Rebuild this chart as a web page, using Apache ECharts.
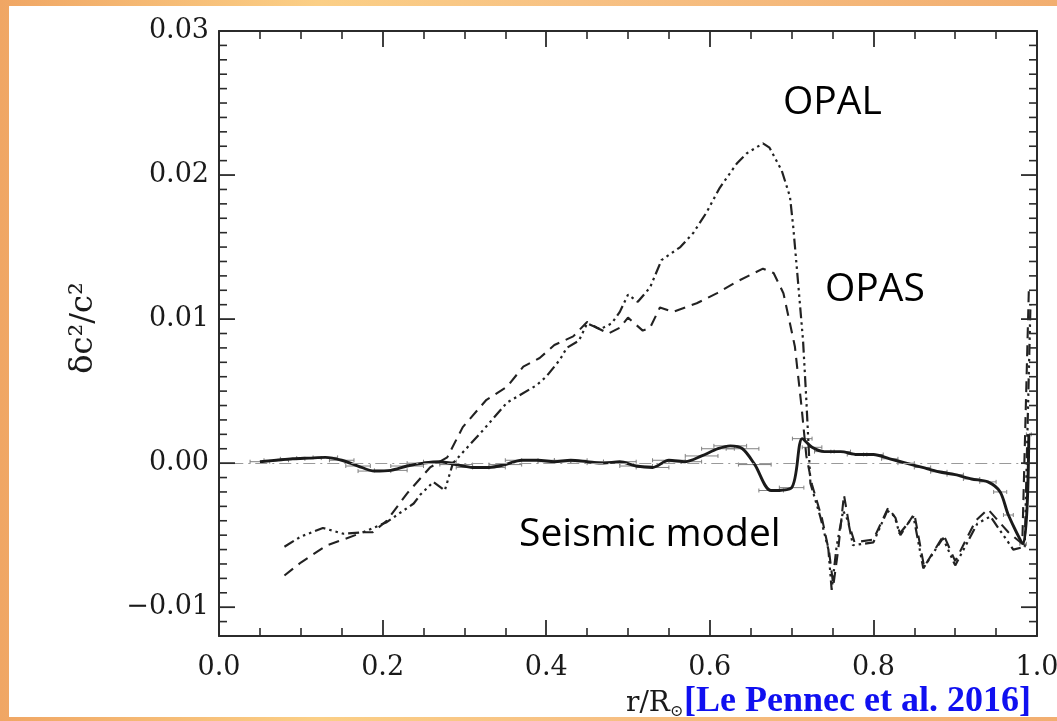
<!DOCTYPE html>
<html>
<head>
<meta charset="utf-8">
<script src="https://cdn.jsdelivr.net/npm/echarts@6/dist/echarts.min.js"></script>
<style>
html,body{margin:0;padding:0;background:#f3ae6c;}
#c{width:1057px;height:721px;}
</style>
</head>
<body>
<div id="c"></div>
<script>
// ---- data ----
const xTicks = [0.0, 0.2, 0.4, 0.6, 0.8, 1.0];
const yTicks = [-0.01, 0.0, 0.01, 0.02, 0.03];
const yMinorStep = 0.001;

const seisR = [0.05,0.07,0.09,0.11,0.13,0.15,0.17,0.19,0.21,0.23,0.25,0.27,0.29,0.31,0.33,0.35,0.37,0.39,0.41,0.43,0.45,0.47,0.49,0.51,0.53,0.55,0.57,0.59,0.61,0.625,0.64,0.655,0.675,0.70,0.713,0.725,0.74,0.76,0.78,0.80,0.82,0.84,0.86,0.88,0.90,0.92,0.94,0.955,0.965,0.983,0.99];
const seisV = [0.0001,0.0002,0.0003,0.00035,0.0004,0.0002,-0.0002,-0.00055,-0.0005,-0.0002,0.0,0.0001,-0.0001,-0.0003,-0.0003,-0.0001,0.0002,0.0002,0.0001,0.0002,0.0001,0.0,0.0001,-0.0002,-0.0003,0.0002,0.0001,0.0005,0.001,0.0012,0.001,-0.0001,-0.0019,-0.0017,0.0017,0.0011,0.0008,0.0008,0.0006,0.0006,0.0003,0.0,-0.0003,-0.0006,-0.0008,-0.0011,-0.0013,-0.002,-0.0036,-0.0056,0.002];
const seisErr = [0.012,0.015,0.015,0.015,0.015,0.015,0.015,0.02,0.02,0.02,0.02,0.02,0.02,0.02,0.02,0.02,0.02,0.02,0.02,0.02,0.02,0.02,0.02,0.02,0.02,0.02,0.02,0.02,0.02,0.02,0.02,0.02,0.015,0.015,0.012,0.012,0.012,0.012,0.012,0.012,0.01,0.01,0.01,0.01,0.01,0.01,0.01,0.008,0.006,0.004,0.003];

const opalR = [0.08,0.10,0.127,0.152,0.176,0.205,0.238,0.246,0.262,0.276,0.286,0.323,0.352,0.364,0.388,0.40,0.417,0.425,0.44,0.45,0.466,0.48,0.49,0.50,0.512,0.527,0.541,0.564,0.58,0.596,0.612,0.633,0.645,0.665,0.673,0.688,0.698,0.702,0.708,0.714,0.718,0.723,0.735,0.745,0.749,0.755,0.763,0.769,0.775,0.80,0.817,0.826,0.832,0.849,0.861,0.885,0.90,0.927,0.943,0.971,0.985,0.992];
const opalV = [-0.0058,-0.0051,-0.0045,-0.0049,-0.0048,-0.0041,-0.0028,-0.0022,-0.0013,-0.0019,0.0,0.0023,0.0042,0.0046,0.0054,0.006,0.0072,0.008,0.0085,0.0097,0.0093,0.0097,0.0105,0.0117,0.0112,0.0122,0.0141,0.015,0.016,0.0174,0.0191,0.0208,0.0215,0.0222,0.0219,0.0203,0.0185,0.0164,0.0125,0.0085,0.0044,-0.0014,-0.0037,-0.006,-0.0088,-0.0058,-0.0033,-0.004,-0.0057,-0.0055,-0.0033,-0.0037,-0.0049,-0.0037,-0.0073,-0.0052,-0.0071,-0.0042,-0.0037,-0.006,-0.0058,0.011];

const opasR = [0.08,0.10,0.132,0.152,0.176,0.188,0.205,0.23,0.258,0.279,0.298,0.327,0.352,0.372,0.392,0.41,0.433,0.45,0.462,0.476,0.49,0.50,0.518,0.527,0.539,0.555,0.584,0.609,0.633,0.665,0.678,0.69,0.698,0.704,0.712,0.718,0.725,0.737,0.746,0.751,0.757,0.764,0.77,0.777,0.80,0.818,0.827,0.833,0.85,0.862,0.886,0.90,0.925,0.94,0.965,0.982,0.99];
const opasV = [-0.0078,-0.0069,-0.0057,-0.0053,-0.0048,-0.0048,-0.004,-0.0021,-0.0003,0.0004,0.0025,0.0044,0.0053,0.0067,0.0073,0.0082,0.0088,0.0098,0.0094,0.009,0.0094,0.0101,0.0092,0.0094,0.0108,0.0105,0.0111,0.0118,0.0126,0.0135,0.0132,0.0118,0.0097,0.0081,0.004,0.0005,-0.0015,-0.0038,-0.0062,-0.0085,-0.006,-0.0022,-0.0042,-0.0055,-0.0053,-0.0031,-0.0038,-0.005,-0.0035,-0.0072,-0.005,-0.0068,-0.004,-0.0032,-0.0048,-0.0056,0.012];

// ---- chart ----
const chart = echarts.init(document.getElementById('c'));
const serif = '"DejaVu Serif", serif';
const axisCol = '#2b2b2b';
const Y_MIN = -0.012, Y_MAX = 0.03;
const isMajorY = v => yTicks.some(t => Math.abs(t - v) < 1e-7);
const fmtY = v => {
  if (!isMajorY(v)) return '';
  const s = Math.abs(v).toFixed(2);
  return v < -1e-9 ? '\u2212' + s : s;
};
const zip = (a, b) => a.map((x, i) => [x, b[i]]);

// y tick positions: minor every 0.001, major where listed in yTicks
const yAllTicks = [];
for (let k = Math.round(Y_MIN / yMinorStep); k <= Math.round(Y_MAX / yMinorStep); k++) {
  const v = +(k * yMinorStep).toFixed(4);
  yAllTicks.push([0.5, v, isMajorY(v) ? 1 : 0]);
}

function xAxisDef(gi, pos, showLabel) {
  return {
    type: 'value', gridIndex: gi, position: pos, min: 0, max: 1, interval: 0.2,
    axisLine: {show: true, onZero: false, lineStyle: {color: axisCol, width: 2}},
    axisTick: {show: true, inside: true, length: 16, lineStyle: {color: axisCol, width: 1.8}},
    minorTick: {show: true, splitNumber: 4, length: 8, lineStyle: {color: axisCol, width: 1.6}},
    axisLabel: {show: showLabel, margin: 18, fontFamily: serif, fontSize: 27, color: '#1a1a1a',
                formatter: v => v.toFixed(1)},
    splitLine: {show: false}, minorSplitLine: {show: false}
  };
}
function yAxisDef(gi, pos, showLabel) {
  return {
    type: 'value', gridIndex: gi, position: pos, min: Y_MIN, max: Y_MAX, interval: 0.001,
    axisLine: {show: true, onZero: false, lineStyle: {color: axisCol, width: 2}},
    axisTick: {show: false},
    axisLabel: {show: showLabel, margin: 10, fontFamily: serif, fontSize: 27, color: '#1a1a1a',
                formatter: fmtY},
    splitLine: {show: false}
  };
}

const bgGrad = () => new echarts.graphic.LinearGradient(0, 0, 1, 0, [
  {offset: 0, color: '#f0a664'},
  {offset: 0.3, color: '#fbcf86'},
  {offset: 0.55, color: '#f7c184'},
  {offset: 1, color: '#f2ae70'}
]);

const gridBox = {left: 219, right: 20, top: 31, bottom: 85, containLabel: false, outerBoundsMode: 'none'};

const option = {
  animation: false,
  grid: [Object.assign({}, gridBox), Object.assign({}, gridBox)],
  xAxis: [xAxisDef(0, 'bottom', true), xAxisDef(1, 'top', false)],
  yAxis: [yAxisDef(0, 'left', true), yAxisDef(1, 'right', false)],
  graphic: [
    {type: 'rect', z: -100, silent: true, shape: {x: 0, y: 0, width: 1057, height: 721}, style: {fill: bgGrad()}},
    {type: 'rect', z: -99, silent: true, shape: {x: 9, y: 6, width: 1048, height: 711}, style: {fill: '#ffffff'}},
    {type: 'text', z: 50, x: 783, y: 103, style: {text: 'OPAL', font: '39px "Open Sans"', fill: '#000', textVerticalAlign: 'middle'}},
    {type: 'text', z: 50, x: 825, y: 290, style: {text: 'OPAS', font: '39px "Open Sans"', fill: '#000', textVerticalAlign: 'middle'}},
    {type: 'text', z: 50, x: 519, y: 535, style: {text: 'Seismic model', font: '39px "Open Sans"', fill: '#000', textVerticalAlign: 'middle'}},
    {type: 'text', z: 50, x: 84, y: 328, rotation: Math.PI / 2,
     style: {text: '\u03b4c\u00b2/c\u00b2', font: '32px "DejaVu Serif"', fill: '#1a1a1a', textAlign: 'center', textVerticalAlign: 'middle'}},
    {type: 'text', z: 50, x: 626, y: 704,
     style: {text: '{a|r/R}{b|\u2299}', fill: '#1a1a1a', textVerticalAlign: 'middle',
       rich: {a: {fontFamily: serif, fontSize: 28, fill: '#1a1a1a'}, b: {fontFamily: serif, fontSize: 16, fill: '#1a1a1a', padding: [16, 0, 0, 0]}}}},
    {type: 'text', z: 50, x: 684, y: 702,
     style: {text: '[Le Pennec et al. 2016]', font: 'bold 36px "Liberation Serif"', fill: '#1010f0', textVerticalAlign: 'middle'}},
    {type: 'rect', z: 100, silent: true, shape: {x: 0, y: 717, width: 1057, height: 4}, style: {fill: bgGrad()}}
  ],
  series: [
    {
      // y-axis ticks on the left and right frame edges, placed through the axis scales
      type: 'custom', name: 'yTicks', xAxisIndex: 0, yAxisIndex: 0, z: 6, silent: true, clip: false,
      data: yAllTicks,
      renderItem: function (params, api) {
        const v = api.value(1), major = api.value(2);
        const pL = api.coord([0, v]), pR = api.coord([1, v]);
        const len = major ? 16 : 8;
        const st = {stroke: axisCol, lineWidth: major ? 1.8 : 1.6};
        return {type: 'group', children: [
          {type: 'line', shape: {x1: pL[0], y1: pL[1], x2: pL[0] + len, y2: pL[1]}, style: st},
          {type: 'line', shape: {x1: pR[0] - len, y1: pR[1], x2: pR[0], y2: pR[1]}, style: st}
        ]};
      }
    },
    {
      type: 'custom', name: 'errors', xAxisIndex: 0, yAxisIndex: 0, z: 2, silent: true,
      data: seisR.map((r, i) => [r, seisV[i], seisErr[i]]),
      renderItem: function (params, api) {
        const x = api.value(0), y = api.value(1), dx = api.value(2);
        const p1 = api.coord([x - dx, y]), p2 = api.coord([x + dx, y]);
        const st = {stroke: '#808080', lineWidth: 1};
        return {type: 'group', children: [
          {type: 'line', shape: {x1: p1[0], y1: p1[1], x2: p2[0], y2: p2[1]}, style: st},
          {type: 'line', shape: {x1: p1[0], y1: p1[1] - 2, x2: p1[0], y2: p1[1] + 2}, style: st},
          {type: 'line', shape: {x1: p2[0], y1: p2[1] - 2, x2: p2[0], y2: p2[1] + 2}, style: st}
        ]};
      }
    },
    {
      type: 'line', name: 'Seismic model', xAxisIndex: 0, yAxisIndex: 0, z: 4,
      data: zip(seisR, seisV), showSymbol: false, smooth: 0.3,
      lineStyle: {color: '#1a1a1a', width: 2.9},
      markLine: {silent: true, symbol: ['none', 'none'], label: {show: false},
        lineStyle: {color: '#9a9a9a', width: 1.1, type: [12, 5, 2, 5]},
        data: [[{coord: [0.015, 0]}, {coord: [1.0, 0]}]]}
    },
    {
      type: 'line', name: 'OPAL', xAxisIndex: 0, yAxisIndex: 0, z: 3,
      data: zip(opalR, opalV), showSymbol: false,
      lineStyle: {color: '#222', width: 2.2, type: [11, 4, 2.5, 4, 2.5, 4, 2.5, 4]}
    },
    {
      type: 'line', name: 'OPAS', xAxisIndex: 0, yAxisIndex: 0, z: 3,
      data: zip(opasR, opasV), showSymbol: false,
      lineStyle: {color: '#222', width: 2.1, type: [11, 7]}
    }
  ]
};
chart.setOption(option);
</script>
</body>
</html>
